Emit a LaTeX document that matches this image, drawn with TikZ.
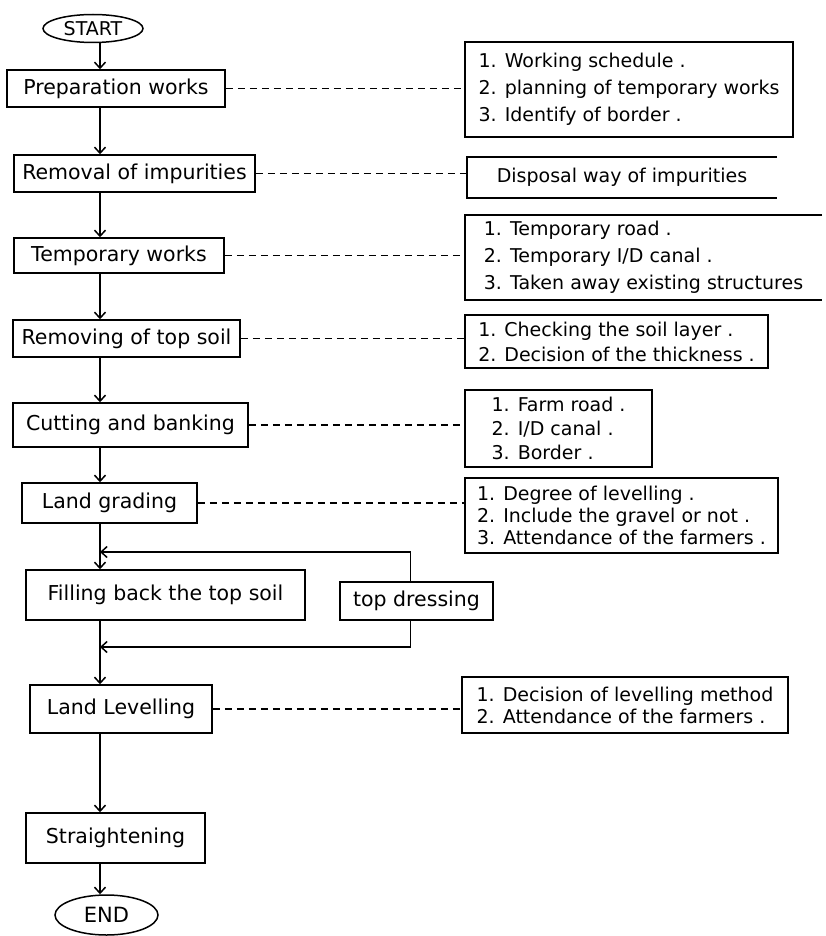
\documentclass[tikz,border=0pt]{standalone}
\usepackage{fontspec}
\setmainfont{DejaVu Sans}
\usetikzlibrary{shapes.geometric,arrows.meta}
\newcommand\flowfs{\fontsize{20.5}{24}\selectfont}
\newcommand\notefs{\fontsize{19}{22}\selectfont}
\newcommand\termfs{\fontsize{19}{22}\selectfont}
\begin{document}
\begin{tikzpicture}[x=1pt,y=1pt,
  flow/.style={draw, line width=1.5pt, rectangle, inner sep=0pt, font=\flowfs},
  term/.style={draw, line width=1.5pt, ellipse, inner sep=0pt, font=\termfs},
  note/.style={draw, line width=1.5pt, rectangle, inner sep=0pt, align=left, font=\notefs},
  notetext/.style={rectangle, inner sep=0pt, align=left, font=\notefs},
  side/.style={line width=1.5pt},
  arr/.style={line width=1.5pt, -{Straight Barb[length=6pt,width=11pt,line width=1.5pt]}},
  link/.style={line width=1.3pt, dash pattern=on 7pt off 5pt}]

% page
\fill[white] (0,0) rectangle (825,-936);
\useasboundingbox (0,0) rectangle (825,-936);

\coordinate (spine) at (100,0);

% terminals
\node[term, minimum width=100pt, minimum height=28pt] (start) at (93,-28.5) {START};
\node[term, minimum width=103pt, minimum height=40pt] (end) at (106.5,-915) {\fontsize{21}{24}\selectfont END};

% main steps
\node[flow, minimum width=218pt, minimum height=37pt] (prep)  at (116,-88.5)   {Preparation works};
\node[flow, minimum width=241pt, minimum height=37pt] (remov) at (134.5,-173.5) {Removal of impurities};
\node[flow, minimum width=210pt, minimum height=35pt] (temp)  at (119,-255.5)   {Temporary works};
\node[flow, minimum width=227pt, minimum height=37pt] (tops)  at (126.5,-338.5) {Removing of top soil};
\node[flow, minimum width=235pt, minimum height=44pt] (cut)   at (130.5,-425)   {Cutting and banking};
\node[flow, minimum width=175pt, minimum height=40pt] (grade) at (109.5,-503)   {Land grading};
\node[flow, minimum width=279pt, minimum height=50pt] (fill)  at (165.5,-595)   {Filling back the top soil};
\node[flow, minimum width=153pt, minimum height=38pt] (dress) at (416.5,-601)   {top dressing};
\node[flow, minimum width=182pt, minimum height=48pt] (level) at (121,-709)     {Land Levelling};
\node[flow, minimum width=179pt, minimum height=50pt] (strt)  at (115.5,-838)   {Straightening};

% notes
\node[note, minimum width=328pt, minimum height=95pt] (n1) at (629,-89.5)
  {1. Working schedule .\\[5pt] 2. planning of temporary works\\[5pt] 3. Identify of border .};
\node[notetext, minimum width=310pt, minimum height=41pt] (n2) at (622,-177.5)
  {Disposal way of impurities};
\draw[side] (n2.north east) -- (n2.north west) -- (n2.south west) -- (n2.south east);
\node[notetext, minimum width=357pt, minimum height=85pt] (n3) at (643.5,-257.5)
  {1. Temporary road .\\[5pt] 2. Temporary I/D canal .\\[5pt] 3. Taken away existing structures};
\draw[side] (n3.north east) -- (n3.north west) -- (n3.south west) -- (n3.south east);
\node[note, minimum width=303pt, minimum height=53pt] (n4) at (616.5,-341.5)
  {1. Checking the soil layer .\\[3pt] 2. Decision of the thickness .};
\node[note, minimum width=187pt, minimum height=77pt] (n5) at (558.5,-428.5)
  {1. Farm road .\\[2pt] 2. I/D canal .\\[2pt] 3. Border .};
\node[note, minimum width=313pt, minimum height=75pt] (n6) at (621.5,-515.5)
  {1. Degree of levelling .\\ 2. Include the gravel or not .\\ 3. Attendance of the farmers .};
\node[note, minimum width=326pt, minimum height=56pt] (n7) at (625,-705)
  {1. Decision of levelling method\\ 2. Attendance of the farmers .};

% dashed links to notes
\draw[link] (prep.east)  -- (prep.east -| n1.west);
\draw[link] (remov.east) -- (remov.east -| n2.west);
\draw[link] (temp.east)  -- (temp.east -| n3.west);
\draw[link] (tops.east)  -- (tops.east -| n4.west);
\draw[link] (cut.east)   -- (cut.east -| n5.west);
\draw[link] (grade.east) -- (grade.east -| n6.west);
\draw[link] (level.east) -- (level.east -| n7.west);

% main flow
\draw[arr] (start.south -| spine) -- (prep.north -| spine);
\draw[arr] (prep.south -| spine)  -- (remov.north -| spine);
\draw[arr] (remov.south -| spine) -- (temp.north -| spine);
\draw[arr] (temp.south -| spine)  -- (tops.north -| spine);
\draw[arr] (tops.south -| spine)  -- (cut.north -| spine);
\draw[arr] (cut.south -| spine)   -- (grade.north -| spine);
\draw[arr] (grade.south -| spine) -- (fill.north -| spine);
\draw[arr] (fill.south -| spine)  -- (level.north -| spine);
\draw[arr] (level.south -| spine) -- (strt.north -| spine);
\draw[arr] (strt.south -| spine)  -- (end.north -| spine);

% top dressing loop
\coordinate (jtop) at (100,-552);
\coordinate (jbot) at (100,-647);
\draw[arr] ([xshift=-6pt]dress.north) |- (jtop);
\draw[arr] ([xshift=-6pt]dress.south) |- (jbot);
\end{tikzpicture}
\end{document}
